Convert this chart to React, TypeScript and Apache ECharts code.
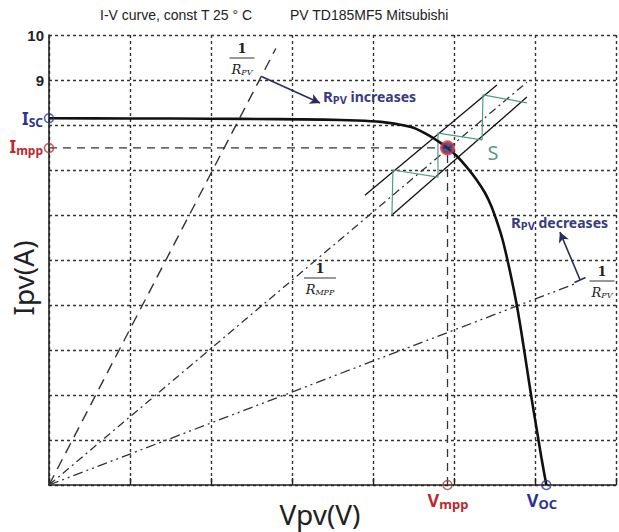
import React, { useEffect, useRef } from "react";
import * as echarts from "echarts";

// I-V characteristic of the module at 25 °C
const V_CURVE = [0, 5, 10, 14, 17, 19, 20.5, 21.5, 22.5, 23.5, 24.1, 24.6, 25.2, 25.8, 26.4, 26.9, 27.3, 27.7, 28.0, 28.3, 28.6, 28.9, 29.2, 29.5, 29.8, 30.1, 30.4, 30.7];
const I_CURVE = [8.15, 8.145, 8.14, 8.13, 8.12, 8.1, 8.07, 8.02, 7.94, 7.76, 7.62, 7.49, 7.3, 7.06, 6.78, 6.5, 6.2, 5.8, 5.45, 5.0, 4.5, 3.95, 3.3, 2.6, 1.9, 1.25, 0.6, 0];

// characteristic points
const ISC = 8.15;
const IMPP = 7.49;
const VMPP = 24.6;
const VOC = 30.7;

// load lines through the origin (end points)
const LOAD_STEEP: number[][] = [[0, 0], [14.0, 9.7]];
const LOAD_MPP: number[][] = [[0, 0], [29.5, 8.95]];
const LOAD_FLAT: number[][] = [[0, 0], [32.6, 4.49]];

// tracking band around the MPP load line and the zig-zag search path S
const BAND_UPPER: number[][] = [[19.5, 6.44], [27.65, 8.89]];
const BAND_LOWER: number[][] = [[21.17, 6.0], [29.5, 8.62]];
const ZIGZAG: number[][] = [[21.17, 6.0], [21.23, 7.0], [24.01, 6.84], [24.01, 7.82], [26.73, 7.67], [26.79, 8.67], [29.5, 8.49]];

// arrows
const ARROW_UP: number[][] = [[13.15, 9.07], [16.73, 8.49]];
const ARROW_DOWN: number[][] = [[32.78, 4.56], [31.54, 5.62]];
const ARROW_DOWN_TAIL: number[][] = [[32.44, 4.5], [33.12, 4.61]];

// axes
const X_MAX = 35;
const X_STEP = 5;
const Y_MAX = 10;
const Y_STEP = 1;
const Y_SHOWN = [9, 10];

const BLUE = "#2e3192";
const RED = "#c1272d";
const NAVY = "#3a3a82";
const GREEN = "#4f9e82";

const SANS = "'Noto Sans', 'Open Sans', 'DejaVu Sans', sans-serif";
const NARROW = "'Liberation Sans Narrow', 'Liberation Sans', Arial, sans-serif";
const SERIF = "'DejaVu Serif', 'Liberation Serif', serif";

function seg(data: number[][], color: string, width: number, type: any, z = 3) {
  return {
    type: "line",
    data,
    symbol: "none",
    silent: true,
    z,
    lineStyle: { color, width, type },
  };
}

function textEl(x: number, y: number, text: string, style: any, extra: any = {}) {
  return {
    type: "text",
    x,
    y,
    silent: true,
    ...extra,
    style: {
      text,
      ...style,
    },
  };
}

const CENTER = {
  align: "center",
  verticalAlign: "middle",
  textAlign: "center",
  textVerticalAlign: "middle",
};

function fraction(cx: number, barY: number, w: number, sub: string) {
  return [
    textEl(cx, barY - 10, "1", {
      ...CENTER,
      fontFamily: SERIF,
      fontWeight: "bold",
      fontSize: 13,
      fill: "#222",
    }),
    {
      type: "line",
      silent: true,
      shape: { x1: cx - w / 2, y1: barY, x2: cx + w / 2, y2: barY },
      style: { stroke: "#333", lineWidth: 1 },
    },
    textEl(cx, barY + 11, `{r|R}{s|${sub}}`, {
      ...CENTER,
      rich: {
        r: { fontFamily: SERIF, fontStyle: "italic", fontSize: 13, fill: "#222", color: "#222" },
        s: { fontFamily: SERIF, fontStyle: "italic", fontSize: 8, fill: "#222", color: "#222", padding: [6, 0, 0, 0] },
      },
    }),
  ];
}

function subLabel(x: number, y: number, main: string, sub: string, color: string, size: number, align: string, rest = "") {
  return textEl(x, y, `{m|${main}}{s|${sub}}${rest ? `{t|${rest}}` : ""}`, {
    align,
    textAlign: align,
    verticalAlign: "middle",
    textVerticalAlign: "middle",
    rich: {
      m: { fontFamily: SANS, fontWeight: "bold", fontSize: size, fill: color, color },
      s: { fontFamily: SANS, fontWeight: "bold", fontSize: Math.round(size * 0.72), fill: color, color, padding: [Math.round(size * 0.45), 0, 0, 0] },
      t: { fontFamily: SANS, fontWeight: "bold", fontSize: 14, fill: color, color },
    },
  });
}

export default function App() {
  const ref = useRef<HTMLDivElement>(null);

  useEffect(() => {
    document.body.style.margin = "0";
    const chart = echarts.init(ref.current!, null, { renderer: "svg" });

    const curve = V_CURVE.map((v, i) => [v, I_CURVE[i]]);
    const gridLine = { show: true, lineStyle: { color: "#333", width: 1.4, type: [3, 3] } };

    const option: any = {
      animation: false,
      backgroundColor: "#ffffff",
      grid: { left: 49, right: 3, top: 35, bottom: 47, containLabel: false },
      xAxis: {
        type: "value",
        min: 0,
        max: X_MAX,
        interval: X_STEP,
        axisLine: { show: true, onZero: false, lineStyle: { color: "#222", width: 1.6 } },
        axisTick: { show: true, inside: true, length: 7, lineStyle: { color: "#222", width: 1.4 } },
        axisLabel: { show: false },
        splitLine: gridLine,
      },
      yAxis: {
        type: "value",
        min: 0,
        max: Y_MAX,
        interval: Y_STEP,
        axisLine: { show: true, onZero: false, lineStyle: { color: "#222", width: 1.6 } },
        axisTick: { show: false },
        axisLabel: {
          show: true,
          margin: 5,
          color: "#222",
          fontFamily: NARROW,
          fontWeight: "bold",
          fontSize: 15,
          formatter: (v: number) => (Y_SHOWN.includes(v) ? String(v) : ""),
        },
        splitLine: gridLine,
      },
      series: [
        seg(LOAD_STEEP, "#333", 1.4, [11, 7]),
        seg(LOAD_MPP, "#333", 1.3, [8, 4, 2, 4]),
        seg(LOAD_FLAT, "#333", 1.3, [10, 4, 2, 4, 2, 4]),
        seg([[0, IMPP], [VMPP, IMPP]], "#333", 1.3, [8, 6]),
        seg([[VMPP, 0], [VMPP, IMPP]], "#333", 1.3, [8, 6]),
        seg(BAND_UPPER, "#111", 1.3, "solid"),
        seg(BAND_LOWER, "#111", 1.3, "solid"),
        seg(ZIGZAG, GREEN, 1.2, "solid"),
        seg(ARROW_DOWN_TAIL, "#2b2d5e", 1.6, "solid"),
        {
          type: "line",
          data: curve,
          symbol: "none",
          smooth: 0.25,
          silent: true,
          z: 5,
          lineStyle: { color: "#111", width: 2.6 },
          markLine: {
            silent: true,
            symbol: ["none", "arrow"],
            symbolSize: [8, 10],
            label: { show: false },
            lineStyle: { color: "#2b2d5e", width: 1.6, type: "solid" },
            data: [
              [{ coord: ARROW_UP[0] }, { coord: ARROW_UP[1] }],
              [{ coord: ARROW_DOWN[0] }, { coord: ARROW_DOWN[1] }],
            ],
          },
        },
        {
          type: "scatter",
          silent: true,
          clip: false,
          z: 8,
          symbol: "circle",
          data: [
            { value: [0, ISC], symbolSize: 9, itemStyle: { color: "rgba(255,255,255,0)", borderColor: BLUE, borderWidth: 1.5 } },
            { value: [0, IMPP], symbolSize: 9, itemStyle: { color: "rgba(255,255,255,0)", borderColor: RED, borderWidth: 1.5 } },
            { value: [VMPP, 0], symbolSize: 9, itemStyle: { color: "rgba(255,255,255,0)", borderColor: "#9a4a4a", borderWidth: 1.5 } },
            { value: [VOC, 0], symbolSize: 9, itemStyle: { color: "rgba(255,255,255,0)", borderColor: BLUE, borderWidth: 1.5 } },
            { value: [VMPP, IMPP], symbolSize: 12, itemStyle: { color: "#2a2f6a", borderColor: "#c8324e", borderWidth: 3 } },
          ],
        },
      ],
      graphic: [
        textEl(100, 15, "I-V curve, const T 25 ° C", {
          fontFamily: NARROW,
          fontSize: 14,
          fill: "#222",
          verticalAlign: "middle",
          textVerticalAlign: "middle",
        }),
        textEl(290, 15, "PV TD185MF5 Mitsubishi", {
          fontFamily: NARROW,
          fontSize: 14,
          fill: "#222",
          verticalAlign: "middle",
          textVerticalAlign: "middle",
        }),
        textEl(320, 514, "Vpv(V)", {
          ...CENTER,
          fontFamily: SANS,
          fontSize: 28,
          fill: "#222",
        }),
        textEl(23, 278, "Ipv(A)", {
          ...CENTER,
          fontFamily: SANS,
          fontSize: 28,
          fill: "#222",
        }, { rotation: Math.PI / 2 }),
        subLabel(43, 118, "I", "SC", BLUE, 17, "right"),
        subLabel(43, 146, "I", "mpp", RED, 17, "right"),
        subLabel(448, 500, "V", "mpp", RED, 18, "center"),
        subLabel(542, 500, "V", "OC", BLUE, 18, "center"),
        subLabel(323, 96, "R", "PV", NAVY, 15, "left", " increases"),
        subLabel(511, 222, "R", "PV", NAVY, 15, "left", " decreases"),
        textEl(493, 152, "S", {
          ...CENTER,
          fontFamily: SANS,
          fontSize: 20,
          fill: GREEN,
        }),
        ...fraction(242, 58, 25, "PV"),
        ...fraction(320, 278, 32, "MPP"),
        ...fraction(602, 281, 25, "PV"),
      ],
    };

    chart.setOption(option);
    return () => chart.dispose();
  }, []);

  return <div ref={ref} style={{ width: 619, height: 532, background: "#fff" }} />;
}
